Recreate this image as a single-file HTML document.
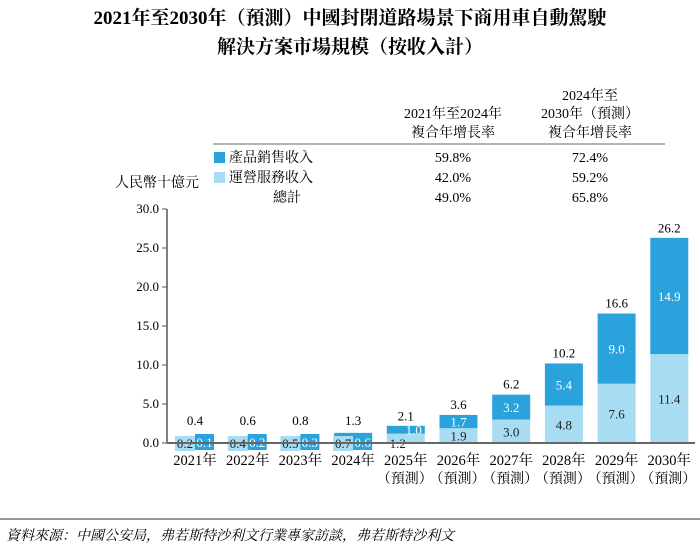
<!DOCTYPE html>
<html><head><meta charset="utf-8"><style>
body{margin:0;background:#fff;width:700px;height:555px;overflow:hidden;font-family:"Liberation Serif","Noto Serif CJK SC",serif;color:#222}
svg text{font-family:"Liberation Serif","Noto Serif CJK SC",serif}
</style></head><body>
<svg width="700" height="555" id="c">
<text x="350" y="24" text-anchor="middle" font-size="19" font-weight="bold">2021年至2030年（預測）中國封閉道路場景下商用車自動駕駛</text>
<text x="350" y="53" text-anchor="middle" font-size="19" font-weight="bold">解決方案市場規模（按收入計）</text>
<g font-size="14" text-anchor="middle">
<text x="453" y="118">2021年至2024年</text><text x="453" y="137">複合年增長率</text>
<text x="590" y="100">2024年至</text><text x="590" y="118">2030年（預測）</text><text x="590" y="137">複合年增長率</text>
<line x1="213" y1="144" x2="665" y2="144" stroke="#888" stroke-width="1.2"/>
<rect x="214" y="152" width="11" height="11" fill="#2aa3dc"/>
<text x="229" y="162" text-anchor="start">產品銷售收入</text>
<rect x="214" y="172" width="11" height="11" fill="#a8dcf2"/>
<text x="229" y="182" text-anchor="start">運營服務收入</text>
<text x="287" y="202">總計</text>
<text x="453" y="162">59.8%</text><text x="590" y="162">72.4%</text>
<text x="453" y="182">42.0%</text><text x="590" y="182">59.2%</text>
<text x="453" y="202">49.0%</text><text x="590" y="202">65.8%</text>
</g>
<text x="115" y="187" font-size="14">人民幣十億元</text>
<g id="plot"></g>
<line x1="0" y1="519" x2="700" y2="519" stroke="#333" stroke-width="1"/>
<text x="6" y="540" font-size="14" font-style="italic">資料來源：中國公安局，弗若斯特沙利文行業專家訪談，弗若斯特沙利文</text>
</svg>
<script>
const categories=["2021年","2022年","2023年","2024年","2025年","2026年","2027年","2028年","2029年","2030年"];
const forecast=[false,false,false,false,true,true,true,true,true,true];
const service=[0.2,0.4,0.5,0.7,1.2,1.9,3.0,4.8,7.6,11.4];
const product=[0.1,0.2,0.3,0.6,1.0,1.7,3.2,5.4,9.0,14.9];
const totals=[0.4,0.6,0.8,1.3,2.1,3.6,6.2,10.2,16.6,26.2];
const yTicks=[0,5,10,15,20,25,30];
const NS="http://www.w3.org/2000/svg";
const g=document.getElementById('plot');
const y0=443,pxPer=7.8,x0=167,step=52.7,first=195,bw=38;
const y=v=>y0-v*pxPer;
const x=i=>first+i*step;
function mk(t,a,txt){const e=document.createElementNS(NS,t);for(const k in a)e.setAttribute(k,a[k]);if(txt!=null)e.textContent=txt;g.appendChild(e);return e;}
yTicks.forEach(v=>{
 const t=mk('text',{x:x0-8,y:y(v)+4,'text-anchor':'end','font-size':13},v.toFixed(1));
 
 
 const l=mk('line',{x1:x0-5,x2:x0,y1:y(v),y2:y(v),stroke:'#555'});
 
 
});
categories.forEach((c,i)=>{
 const cx=x(i),hs=service[i]*pxPer,hp=product[i]*pxPer;
 const r1=mk('rect',{x:cx-bw/2,y:y(service[i]),width:bw,height:hs,fill:'#a8dcf2'});
 
 
 const r2=mk('rect',{x:cx-bw/2,y:y(service[i]+product[i]),width:bw,height:hp,fill:'#2aa3dc'});
 
 
 const small=totals[i]<3;
 if(small){
  if(i<4){
   const b1=mk('rect',{x:cx-20,y:y0-7,width:20,height:15,fill:'#a8dcf2'});
   
   
   const b2=mk('rect',{x:cx,y:y0-9,width:19,height:16,fill:'#2aa3dc'});
   
   
  }
  const sx=i<4?cx-10:cx-8, px=i<4?cx+9.5:cx+8;
  const t1=mk('text',{x:sx,y:y0+5,'text-anchor':'middle','font-size':13,fill:'#222'},service[i].toFixed(1));
  
  
  const t2=mk('text',{x:px,y:i<4?y0+4:y(service[i]+product[i]/2)+5,'text-anchor':'middle','font-size':13,fill:'#fff'},product[i].toFixed(1));
  
  
 }else{
  const t1=mk('text',{x:cx,y:y(service[i]/2)+5,'text-anchor':'middle','font-size':13,fill:'#222'},service[i].toFixed(1));
  
  
  const t2=mk('text',{x:cx,y:y(service[i]+product[i]/2)+5,'text-anchor':'middle','font-size':13,fill:'#fff'},product[i].toFixed(1));
  
  
 }
 const tt=mk('text',{x:cx,y:(i<4?y0-18:y(totals[i])-6),'text-anchor':'middle','font-size':13},totals[i].toFixed(1));
 
 
 const xl=mk('text',{x:cx,y:465,'text-anchor':'middle','font-size':14.5},c);
 
 
 if(forecast[i]){
  const fl=mk('text',{x:cx-1,y:483,'text-anchor':'middle','font-size':14},'（預測）');
  
  
 }
});
const ax=mk('line',{x1:x0,x2:x0,y1:y(30),y2:y0,stroke:'#555','stroke-width':1.5});


const bx=mk('line',{x1:x0,x2:695,y1:y0,y2:y0,stroke:'#666','stroke-width':2});


</script>
</body></html>
